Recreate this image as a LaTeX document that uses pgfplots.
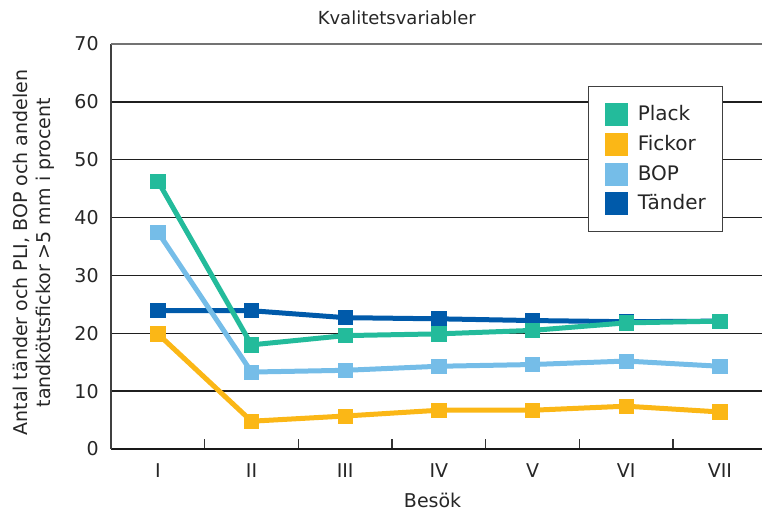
\documentclass[border=0pt]{standalone}
\usepackage{pgfplots}
\pgfplotsset{compat=1.18}
\usepackage{fontspec}
\setmainfont{DejaVu Sans}
\definecolor{plack}{RGB}{35,187,155}
\definecolor{fickor}{RGB}{251,183,22}
\definecolor{bop}{RGB}{117,189,232}
\definecolor{tander}{RGB}{0,90,170}
\begin{document}
\begin{tikzpicture}
\begin{axis}[
  name=ax,
  scale only axis,
  width=325.5pt, height=202.5pt,
  xmin=-0.5, xmax=6.45,
  ymin=0, ymax=70,
  axis x line*=bottom, axis y line*=left,
  axis line style={-},
  x axis line style={black!90, line width=0.75pt},
  y axis line style={black!75, line width=0.65pt},
  xtick={0,...,6},
  xticklabels={I,II,III,IV,V,VI,VII},
  minor xtick={0.5,1.5,...,5.5},
  major tick length=0pt,
  minor tick length=5pt,
  tick align=inside,
  minor tick style={black!80, line width=0.6pt},
  ytick={0,10,...,60},
  extra y ticks={70},
  extra y tick style={grid style={black!55, line width=0.6pt}},
  ymajorgrids,
  grid style={black!88, line width=0.75pt},
  /pgf/number format/assume math mode=true,
  tick label style={font=\fontsize{9.5}{11}\selectfont, text=black!85},
  yticklabel style={inner sep=0pt, xshift=-6pt},
  xticklabel style={inner sep=0pt, yshift=-7pt},
  title={Kvalitetsvariabler},
  title style={at={(axis description cs:0.439,1)}, anchor=base, yshift=3.5pt, font=\fontsize{9}{11}\selectfont, text=black!85, inner sep=0pt},
  xlabel={Besök},
  xlabel style={at={(axis description cs:0.494,0)}, anchor=base, yshift=-29.5pt, font=\fontsize{9.5}{11}\selectfont, text=black!85, inner sep=0pt},
  ylabel={Antal tänder och PLI, BOP och andelen\\tandköttsfickor >5 mm i procent},
  ylabel style={at={(axis description cs:-0.087,0.485)}, anchor=south, align=center, font=\fontsize{9.5}{11.5}\selectfont, text=black!85, inner sep=0pt},
  legend style={at={(axis description cs:0.733,0.896)}, anchor=north west,
    draw=black!75, line width=0.6pt, fill=white,
    font=\fontsize{10}{12}\selectfont, text=black!85,
    inner xsep=8.5pt, inner ysep=8.5pt, row sep=3.85pt, column sep=5pt,
    nodes={inner sep=0pt}},
  legend cell align=left,
  reverse legend,
  legend image code/.code={\fill[line width=0pt] (0pt,-5.5pt) rectangle (11pt,5.5pt);},
  every axis plot/.append style={line width=2.5pt, mark=square*, mark size=3.55pt, mark options={line width=0.4pt, solid}},
]
\addplot[color=tander] coordinates {(0,23.9) (1,23.9) (2,22.7) (3,22.5) (4,22.2) (5,22.0) (6,22.1)};
\addlegendentry{Tänder}
\addplot[color=bop] coordinates {(0,37.5) (1,13.3) (2,13.6) (3,14.3) (4,14.6) (5,15.2) (6,14.3)};
\addlegendentry{BOP}
\addplot[color=fickor] coordinates {(0,19.9) (1,4.8) (2,5.7) (3,6.7) (4,6.7) (5,7.4) (6,6.4)};
\addlegendentry{Fickor}
\addplot[color=plack] coordinates {(0,46.3) (1,18.0) (2,19.6) (3,19.9) (4,20.5) (5,21.8) (6,22.1)};
\addlegendentry{Plack}
\end{axis}
\pgfresetboundingbox
\useasboundingbox ([xshift=-55.5pt,yshift=-31pt]ax.south west) rectangle ([yshift=22pt]ax.north east);
\end{tikzpicture}
\end{document}
